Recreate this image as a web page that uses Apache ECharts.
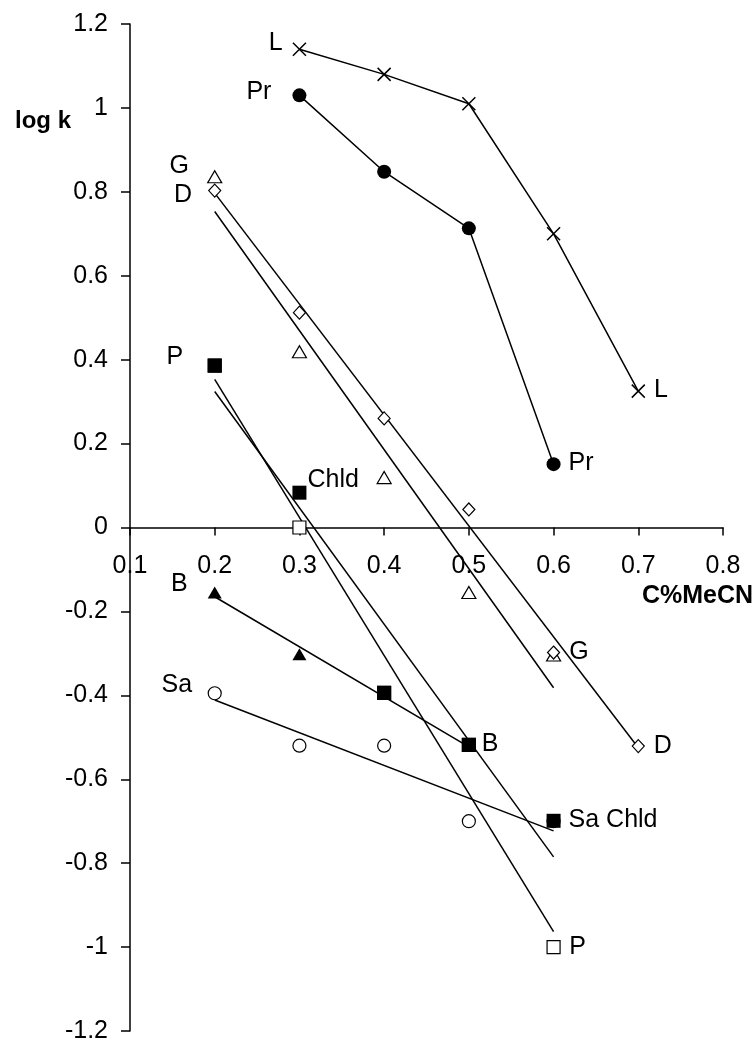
<!DOCTYPE html>
<html>
<head>
<meta charset="utf-8">
<script src="https://cdn.jsdelivr.net/npm/echarts@6/dist/echarts.min.js"></script>
<style>
html,body{margin:0;padding:0;background:#fff;}
#chart{width:756px;height:1042px;}
</style>
</head>
<body>
<div id="chart"></div>
<script>
// ---- data ----
var xTicks = [0.1, 0.2, 0.3, 0.4, 0.5, 0.6, 0.7, 0.8];
var yTicks = [-1.2, -1, -0.8, -0.6, -0.4, -0.2, 0, 0.2, 0.4, 0.6, 0.8, 1, 1.2];

var L_x  = [0.3, 0.4, 0.5, 0.6, 0.7];
var L_y  = [1.14, 1.08, 1.01, 0.70, 0.325];
var Pr_x = [0.3, 0.4, 0.5, 0.6];
var Pr_y = [1.03, 0.848, 0.713, 0.151];
var G_x  = [0.2, 0.3, 0.4, 0.5, 0.6];
var G_y  = [0.836, 0.419, 0.119, -0.155, -0.304];
var D_x  = [0.2, 0.3, 0.4, 0.5, 0.6, 0.7];
var D_y  = [0.803, 0.512, 0.260, 0.043, -0.298, -0.521];
var P_x  = [0.2, 0.3, 0.4, 0.5, 0.6];
var P_y  = [0.386, 0.0, -0.394, -0.518, -1.0];
var Chld_x = [0.2, 0.3, 0.4, 0.5, 0.6];
var Chld_y = [0.386, 0.083, -0.394, -0.518, -0.699];
var B_x  = [0.2, 0.3, 0.4, 0.5];
var B_y  = [-0.155, -0.302, -0.394, -0.518];
var Sa_x = [0.2, 0.3, 0.4, 0.5, 0.6];
var Sa_y = [-0.395, -0.52, -0.52, -0.70, -0.70];

// trend lines (end points)
var G_trend_x = [0.2, 0.6];    var G_trend_y = [0.753, -0.382];
var D_trend_x = [0.2, 0.7];    var D_trend_y = [0.797, -0.525];
var P_trend_x = [0.2, 0.6];    var P_trend_y = [0.353, -0.963];
var Chld_trend_x = [0.2, 0.6]; var Chld_trend_y = [0.324, -0.785];
var B_trend_x = [0.2, 0.5];    var B_trend_y = [-0.165, -0.523];
var Sa_trend_x = [0.2, 0.6];   var Sa_trend_y = [-0.411, -0.723];

// point label texts: [series, point index, text]
var pointLabels = [
  ['L', 0, 'L'], ['L', 4, 'L'],
  ['Pr', 0, 'Pr'], ['Pr', 3, 'Pr'],
  ['G', 0, 'G'], ['G', 4, 'G'],
  ['D', 0, 'D'], ['D', 5, 'D'],
  ['P', 0, 'P'], ['P', 4, 'P'],
  ['Chld', 1, 'Chld'],
  ['B', 0, 'B'], ['B', 3, 'B'],
  ['Sa', 0, 'Sa'], ['Chld', 4, 'Sa Chld']
];

// ---- layout / style (not data) ----
var FONT = '"Liberation Sans", Arial, sans-serif';
var FS = 25;
// label placement: side, gap from point centre to text edge, vertical shift
var labelLayout = {
  'L|0': ['left', 16, -6.5], 'L|4': ['right', 15, -1.5],
  'Pr|0': ['left', 28, -3.5], 'Pr|3': ['right', 15, -1],
  'G|0': ['left', 25, -11], 'G|4': ['right', 15, -2.5],
  'D|0': ['left', 22, 4.5], 'D|5': ['right', 15, 0],
  'P|0': ['left', 31, -8.5], 'P|4': ['right', 15, 0],
  'Chld|1': ['right', 8, -13],
  'B|0': ['left', 27, -8.5], 'B|3': ['right', 13, -1],
  'Sa|0': ['left', 22, -8], 'Chld|4': ['right', 15, -1]
};
var symbols = {
  L:    {symbol: 'path://M0,0L10,10M10,0L0,10', size: 13, fill: '#000', stroke: '#000', bw: 1.5},
  Pr:   {symbol: 'circle', size: 14, fill: '#000', stroke: '#000', bw: 0},
  G:    {symbol: 'triangle', size: [14, 12], fill: '#fff', stroke: '#000', bw: 1.2},
  D:    {symbol: 'diamond', size: [12, 13], fill: '#fff', stroke: '#000', bw: 1.2},
  P:    {symbol: 'rect', size: 13, fill: '#fff', stroke: '#000', bw: 1.2},
  Chld: {symbol: 'rect', size: 14, fill: '#000', stroke: '#000', bw: 0},
  B:    {symbol: 'triangle', size: [14, 12], fill: '#000', stroke: '#000', bw: 0},
  Sa:   {symbol: 'circle', size: 13, fill: '#fff', stroke: '#000', bw: 1.2}
};

function labelFor(name, i) {
  var txt = null;
  pointLabels.forEach(function (p) { if (p[0] === name && p[1] === i) txt = p[2]; });
  if (txt === null) return undefined;
  var lay = labelLayout[name + '|' + i];
  var s = symbols[name].size; var w = Array.isArray(s) ? s[0] : s;
  var d = lay[1] - w / 2;
  return {
    show: true, formatter: txt, position: lay[0], distance: 0,
    offset: [lay[0] === 'left' ? -d : d, lay[2]],
    color: '#000', fontFamily: FONT, fontSize: FS
  };
}
function pts(name, xs, ys) {
  return xs.map(function (x, i) {
    var o = {value: [x, ys[i]]};
    var lb = labelFor(name, i);
    if (lb) o.label = lb;
    return o;
  });
}
function markerSeries(name, xs, ys, withLine) {
  var sy = symbols[name];
  return {
    name: name, type: withLine ? 'line' : 'scatter',
    data: pts(name, xs, ys),
    symbol: sy.symbol, symbolSize: sy.size, showSymbol: true,
    itemStyle: {color: sy.fill, borderColor: sy.stroke, borderWidth: sy.bw, opacity: 1},
    lineStyle: withLine ? {color: '#000', width: 1.5} : undefined,
    z: 5, silent: true
  };
}
function trendSeries(name, xs, ys) {
  return {
    name: name + ' trend', type: 'line',
    data: xs.map(function (x, i) { return [x, ys[i]]; }),
    showSymbol: false, symbol: 'none',
    lineStyle: {color: '#000', width: 1.5}, z: 3, silent: true
  };
}

var chart = echarts.init(document.getElementById('chart'), null, {renderer: 'canvas'});
chart.setOption({
  animation: false,
  backgroundColor: '#fff',
  grid: {left: 130, right: 33, top: 24, bottom: 11, containLabel: false, outerBoundsMode: 'none'},
  xAxis: {
    type: 'value', position: 'bottom', min: xTicks[0], max: xTicks[xTicks.length - 1], interval: 0.1,
    offset: 0,
    axisLine: {show: true, onZero: false, lineStyle: {color: '#000', width: 1.5}},
    axisTick: {show: true, inside: false, length: 8, lineStyle: {color: '#000', width: 1.5}},
    axisLabel: {margin: 26, color: '#000', fontFamily: FONT, fontSize: FS,
      formatter: function (v) { return String(+v.toFixed(1)); }},
    splitLine: {show: false}
  },
  yAxis: {
    type: 'value', min: yTicks[0], max: yTicks[yTicks.length - 1], interval: 0.2,
    axisLine: {show: true, onZero: false, lineStyle: {color: '#000', width: 1.5}},
    axisTick: {show: true, inside: false, length: 9, lineStyle: {color: '#000', width: 1.5}},
    axisLabel: {margin: 22, color: '#000', fontFamily: FONT, fontSize: FS,
      formatter: function (v) { return String(+v.toFixed(1)); }},
    splitLine: {show: false}
  },
  graphic: [
    {type: 'text', x: 71, y: 121, z: 10,
     style: {text: 'log k', fill: '#000', font: 'bold 24px ' + FONT,
             align: 'right', verticalAlign: 'middle', textAlign: 'right', textVerticalAlign: 'middle'}},
    {type: 'text', x: 753, y: 596, z: 10,
     style: {text: 'C%MeCN', fill: '#000', font: 'bold 25px ' + FONT,
             align: 'right', verticalAlign: 'middle', textAlign: 'right', textVerticalAlign: 'middle'}}
  ],
  series: [
    trendSeries('G', G_trend_x, G_trend_y),
    trendSeries('D', D_trend_x, D_trend_y),
    trendSeries('P', P_trend_x, P_trend_y),
    trendSeries('Chld', Chld_trend_x, Chld_trend_y),
    trendSeries('B', B_trend_x, B_trend_y),
    trendSeries('Sa', Sa_trend_x, Sa_trend_y),
    markerSeries('L', L_x, L_y, true),
    markerSeries('Pr', Pr_x, Pr_y, true),
    markerSeries('G', G_x, G_y, false),
    markerSeries('D', D_x, D_y, false),
    markerSeries('Sa', Sa_x, Sa_y, false),
    markerSeries('B', B_x, B_y, false),
    markerSeries('P', P_x, P_y, false),
    markerSeries('Chld', Chld_x, Chld_y, false)
  ]
});
// move the x axis (line, ticks, labels) up to y = 0 using the y scale
var zeroY = chart.convertToPixel({yAxisIndex: 0}, 0);
var bottomY = chart.convertToPixel({yAxisIndex: 0}, yTicks[0]);
chart.setOption({xAxis: {offset: -(bottomY - zeroY)}});
</script>
</body>
</html>
